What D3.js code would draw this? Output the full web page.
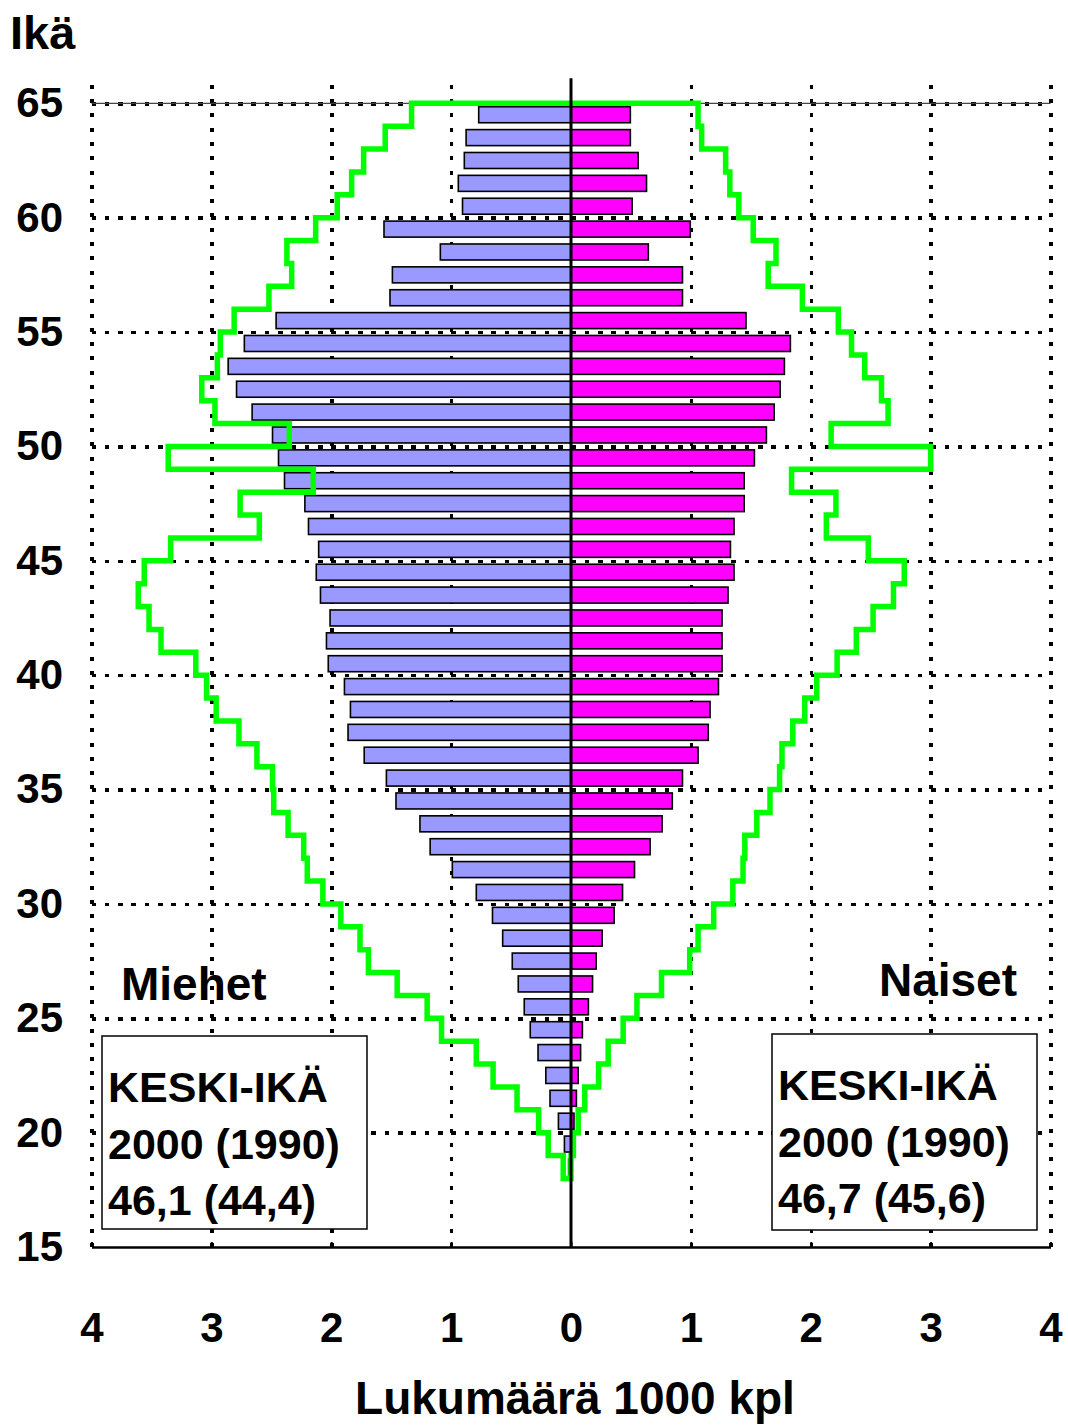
<!DOCTYPE html>
<html>
<head>
<meta charset="utf-8">
<style>
    body {
        margin: 0;
        background-color: #ffffff;
    }
    svg text {
        font-family: "Liberation Sans", Arial, sans-serif;
        font-weight: bold;
        fill: #000;
    }
</style>
</head>
<body>
<script src="https://d3js.org/d3.v7.min.js"></script>
<script>
    // ages (bar = one year, age a covers a..a+1)
    var ages = [18, 19, 20, 21, 22, 23, 24, 25, 26, 27, 28, 29, 30, 31, 32, 33,
        34, 35, 36, 37, 38, 39, 40, 41, 42, 43, 44, 45, 46, 47, 48, 49, 50,
        51, 52, 53, 54, 55, 56, 57, 58, 59, 60, 61, 62, 63, 64];

    // 2000, 1000 persons
    var men2000 = [0.02, 0.055, 0.105, 0.175, 0.21, 0.275, 0.34, 0.39, 0.44, 0.49, 0.57, 0.655,
        0.79, 0.99, 1.175, 1.26, 1.46, 1.54, 1.725, 1.86, 1.84, 1.89, 2.025, 2.04, 2.01, 2.09,
        2.125, 2.105, 2.19, 2.22, 2.39, 2.44, 2.49, 2.66, 2.79, 2.86, 2.725, 2.46, 1.51, 1.49,
        1.09, 1.56, 0.905, 0.94, 0.89, 0.875, 0.77];
    var women2000 = [0.005, 0.01, 0.025, 0.045, 0.06, 0.08, 0.095, 0.145, 0.18, 0.21, 0.26, 0.36,
        0.43, 0.53, 0.66, 0.76, 0.845, 0.93, 1.06, 1.145, 1.16, 1.23, 1.26, 1.26, 1.26, 1.31,
        1.36, 1.33, 1.36, 1.445, 1.445, 1.53, 1.63, 1.695, 1.745, 1.78, 1.83, 1.46, 0.93, 0.93,
        0.645, 0.995, 0.51, 0.63, 0.56, 0.495, 0.495];

    // 1990 (green outline)
    var men1990 = [0.065, 0.19, 0.27, 0.45, 0.65, 0.79, 1.08, 1.2, 1.45, 1.69, 1.76, 1.92,
        2.07, 2.2, 2.23, 2.36, 2.48, 2.49, 2.62, 2.77, 2.96, 3.04, 3.13, 3.42, 3.52, 3.61,
        3.56, 3.34, 2.6, 2.76, 2.15, 3.36, 2.35, 2.97, 3.08, 2.95, 2.925, 2.81, 2.52, 2.33,
        2.37, 2.13, 1.95, 1.83, 1.73, 1.55, 1.33];
    var women1990 = [0.0, 0.02, 0.06, 0.115, 0.23, 0.31, 0.435, 0.55, 0.755, 0.99, 1.06, 1.19,
        1.35, 1.435, 1.45, 1.55, 1.66, 1.74, 1.76, 1.85, 1.95, 2.05, 2.22, 2.38, 2.52, 2.69,
        2.78, 2.48, 2.13, 2.21, 1.84, 3.0, 2.17, 2.645, 2.59, 2.45, 2.34, 2.23, 1.93, 1.645,
        1.71, 1.52, 1.40, 1.325, 1.29, 1.09, 1.06];

    var xTicks = [-4, -3, -2, -1, 0, 1, 2, 3, 4];
    var yTicks = [15, 20, 25, 30, 35, 40, 45, 50, 55, 60, 65];
    var boxMen = ["KESKI-IKÄ", "2000 (1990)", "46,1 (44,4)"];
    var boxWomen = ["KESKI-IKÄ", "2000 (1990)", "46,7 (45,6)"];

    var w = 1068;
    var h = 1425;

    var svg = d3.select("body")
        .append("svg")
        .attr("width", w)
        .attr("height", h);

    var x = d3.scaleLinear().domain([-4, 4]).range([91.5, 1050.5]);
    var y = d3.scaleLinear().domain([15, 65]).range([1247, 103.3]);
    var plotTop = y(66.1);
    var plotW = x(4) - x(-4);

    // vertical dotted grid
    svg.append("g")
        .attr("transform", "translate(0," + y(15) + ")")
        .call(d3.axisBottom(x).tickValues(xTicks.filter(function (d) { return d != 0; }))
            .tickSize(-(y(15) - plotTop)).tickFormat(""))
        .call(function (g) { g.select(".domain").remove(); })
        .selectAll("line")
        .attr("stroke", "#000")
        .attr("stroke-width", 3.5)
        .attr("shape-rendering", "crispEdges")
        .attr("stroke-dasharray", "4,10.3");

    // horizontal dotted grid
    svg.append("g")
        .attr("transform", "translate(" + x(-4) + ",0)")
        .call(d3.axisLeft(y).tickValues(yTicks.filter(function (d) { return d != 15; }))
            .tickSize(-plotW).tickFormat(""))
        .call(function (g) { g.select(".domain").remove(); })
        .selectAll("line")
        .attr("stroke", "#000")
        .attr("stroke-width", 3.5)
        .attr("shape-rendering", "crispEdges")
        .attr("stroke-dasharray", "4.5,8.83");

    svg.append("line")
        .attr("x1", x(-4)).attr("x2", x(4))
        .attr("y1", y(65)).attr("y2", y(65))
        .attr("stroke", "#444")
        .attr("stroke-width", 1.2);

    // bars men
    svg.append("g")
        .selectAll("rect")
        .data(ages)
        .enter()
        .append("rect")
        .attr("x", function (d, i) { return x(-men2000[i]); })
        .attr("y", function (d) { return y(d + 0.85); })
        .attr("width", function (d, i) { return x(0) - x(-men2000[i]); })
        .attr("height", function (d) { return y(d + 0.15) - y(d + 0.85); })
        .attr("fill", "#9999ff")
        .attr("stroke", "#000")
        .attr("stroke-width", 1.6);

    // bars women
    svg.append("g")
        .selectAll("rect")
        .data(ages)
        .enter()
        .append("rect")
        .attr("x", x(0))
        .attr("y", function (d) { return y(d + 0.85); })
        .attr("width", function (d, i) { return x(women2000[i]) - x(0); })
        .attr("height", function (d) { return y(d + 0.15) - y(d + 0.85); })
        .attr("fill", "#ff00ff")
        .attr("stroke", "#000")
        .attr("stroke-width", 1.6);

    // 1990 outline, step shape
    var pts = [];
    var i;
    for (i = ages.length - 1; i >= 0; i--) {
        pts.push([-men1990[i], ages[i] + 1]);
        pts.push([-men1990[i], ages[i]]);
    }
    for (i = 0; i < ages.length; i++) {
        pts.push([women1990[i], ages[i]]);
        pts.push([women1990[i], ages[i] + 1]);
    }
    var outline = d3.line()
        .x(function (d) { return x(d[0]); })
        .y(function (d) { return y(d[1]); })
        .curve(d3.curveLinearClosed);
    svg.append("path")
        .attr("d", outline(pts))
        .attr("fill", "none")
        .attr("stroke", "#00ff00")
        .attr("stroke-width", 5.5);

    // center line
    svg.append("line")
        .attr("x1", x(0)).attr("x2", x(0))
        .attr("y1", plotTop).attr("y2", y(15))
        .attr("stroke", "#000")
        .attr("stroke-width", 3);

    // bottom axis line
    svg.append("g")
        .attr("transform", "translate(0," + y(15) + ")")
        .call(d3.axisBottom(x).tickValues(xTicks).tickSize(-5).tickSizeOuter(0).tickFormat(""))
        .call(function (g) {
            g.select(".domain").attr("stroke-width", 2.5);
            g.selectAll("line").attr("stroke-width", 2);
        });

    // x tick labels
    svg.append("g")
        .attr("transform", "translate(0," + y(15) + ")")
        .call(d3.axisBottom(x).tickValues(xTicks).tickSize(0).tickPadding(65)
            .tickFormat(function (d) { return Math.abs(d); }))
        .call(function (g) { g.select(".domain").remove(); })
        .selectAll("text")
        .style("font-size", "42px");

    // y tick labels
    svg.append("g")
        .attr("transform", "translate(63,0)")
        .call(d3.axisLeft(y).tickValues(yTicks).tickSize(0).tickPadding(0))
        .call(function (g) { g.select(".domain").remove(); })
        .selectAll("text")
        .style("font-size", "42px");

    svg.append("text")
        .attr("x", 10)
        .attr("y", 49)
        .style("font-size", "47px")
        .text("Ikä");

    svg.append("text")
        .attr("x", 575)
        .attr("y", 1414)
        .attr("text-anchor", "middle")
        .style("font-size", "46px")
        .text("Lukumäärä 1000 kpl");

    svg.append("text")
        .attr("x", 121)
        .attr("y", 1000)
        .style("font-size", "46px")
        .text("Miehet");

    svg.append("text")
        .attr("x", 1017)
        .attr("y", 996)
        .attr("text-anchor", "end")
        .style("font-size", "46px")
        .text("Naiset");

    // median age boxes
    function drawBox(bx, by, bw, bh, lines) {
        svg.append("rect")
            .attr("x", bx).attr("y", by)
            .attr("width", bw).attr("height", bh)
            .attr("fill", "#fff")
            .attr("stroke", "#000")
            .attr("stroke-width", 1.5);
        svg.append("g")
            .selectAll("text")
            .data(lines)
            .enter()
            .append("text")
            .attr("x", bx + 6)
            .attr("y", function (d, k) { return by + 66 + k * 56.5; })
            .style("font-size", "43px")
            .text(function (d) { return d; });
    }
    drawBox(102, 1036, 265, 193, boxMen);
    drawBox(772, 1034, 265, 196, boxWomen);
</script>
</body>
</html>
